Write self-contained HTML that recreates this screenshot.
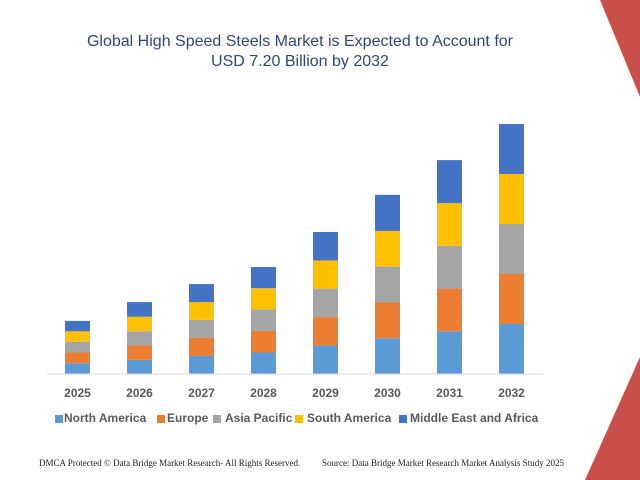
<!DOCTYPE html>
<html><head><meta charset="utf-8">
<style>
body{margin:0;width:640px;height:480px;overflow:hidden;background:#fff;font-family:"Liberation Sans",sans-serif;}
#wrap{position:relative;width:640px;height:480px;}
.t{position:absolute;white-space:nowrap;}
.title{left:0;width:600px;text-align:center;font-size:16px;color:#2f4773;}
.yr{font-size:12px;font-weight:bold;color:#595959;width:40px;text-align:center;top:386px;}
.lg{position:absolute;top:415px;width:8px;height:8px;}
.lt{top:411px;font-size:12px;font-weight:bold;color:#595959;}
.ft{top:458px;font-family:"Liberation Serif",serif;font-size:9px;color:#222;}
</style></head><body>
<div id="wrap">
<svg width="640" height="480" style="position:absolute;left:0;top:0">
<polygon points="600,0 640,0 640,97" fill="#c9504a"/>
<polygon points="640,357 640,480 585,480" fill="#c9504a"/>
<g id="bars"></g>
<line x1="47" y1="374" x2="543" y2="374" stroke="#d9d9d9" stroke-width="1"/>
</svg>
<div class="t title" style="top:33px">Global High Speed Steels Market is Expected to Account for</div>
<div class="t title" style="top:53px">USD 7.20 Billion by 2032</div>
<div id="labels"></div>
<div class="lg" style="left:55px;background:#5b9bd5"></div>
<div class="t lt" style="left:64px">North America</div>
<div class="lg" style="left:157px;background:#ed7d31"></div>
<div class="t lt" style="left:167px">Europe</div>
<div class="lg" style="left:213px;background:#a5a5a5"></div>
<div class="t lt" style="left:225px">Asia Pacific</div>
<div class="lg" style="left:295px;background:#ffc000"></div>
<div class="t lt" style="left:307px">South America</div>
<div class="lg" style="left:399px;background:#4472c4"></div>
<div class="t lt" style="left:410px">Middle East and Africa</div>
<div class="t ft" style="left:39px">DMCA Protected © Data Bridge Market Research- All Rights Reserved.</div>
<div class="t ft" style="left:322px">Source: Data Bridge Market Research Market Analysis Study 2025</div>
</div>
<script>
const years = ["2025","2026","2027","2028","2029","2030","2031","2032"];
const northAmerica = [0.31,0.41,0.52,0.62,0.82,1.03,1.23,1.44];
const europe = [0.31,0.41,0.52,0.62,0.82,1.03,1.23,1.44];
const asiaPacific = [0.31,0.41,0.52,0.62,0.82,1.03,1.23,1.44];
const southAmerica = [0.30,0.42,0.51,0.61,0.81,1.03,1.23,1.44];
const middleEastAfrica = [0.30,0.42,0.52,0.61,0.82,1.04,1.24,1.44];
const seriesNames = ["north-america","europe","asia-pacific","south-america","middle-east-africa"];
const colors = ["#5b9bd5","#ed7d31","#a5a5a5","#ffc000","#4472c4"];
const series = [northAmerica, europe, asiaPacific, southAmerica, middleEastAfrica];
const baseY = 374, pxPerUnit = 250/7.2, x0 = 77.5, step = 62, bw = 25;
function xScale(i){return x0 + i*step;}
function yScale(v){return baseY - v*pxPerUnit;}
const g = document.getElementById('bars');
const lab = document.getElementById('labels');
years.forEach((yr,i)=>{
  let acc = 0;
  series.forEach((s,k)=>{
    const y1 = yScale(acc), y2 = yScale(acc + s[i]);
    acc += s[i];
    const r = document.createElementNS('http://www.w3.org/2000/svg','rect');
    r.setAttribute('x', xScale(i)-bw/2);
    r.setAttribute('y', y2);
    r.setAttribute('width', bw);
    r.setAttribute('height', y1-y2);
    r.setAttribute('fill', colors[k]);
    
    
    g.appendChild(r);
  });
  const d = document.createElement('div');
  d.className = 't yr';
  d.style.left = (xScale(i)-20) + 'px';
  d.textContent = yr;
  
  
  lab.appendChild(d);
});
</script>
</body></html>
